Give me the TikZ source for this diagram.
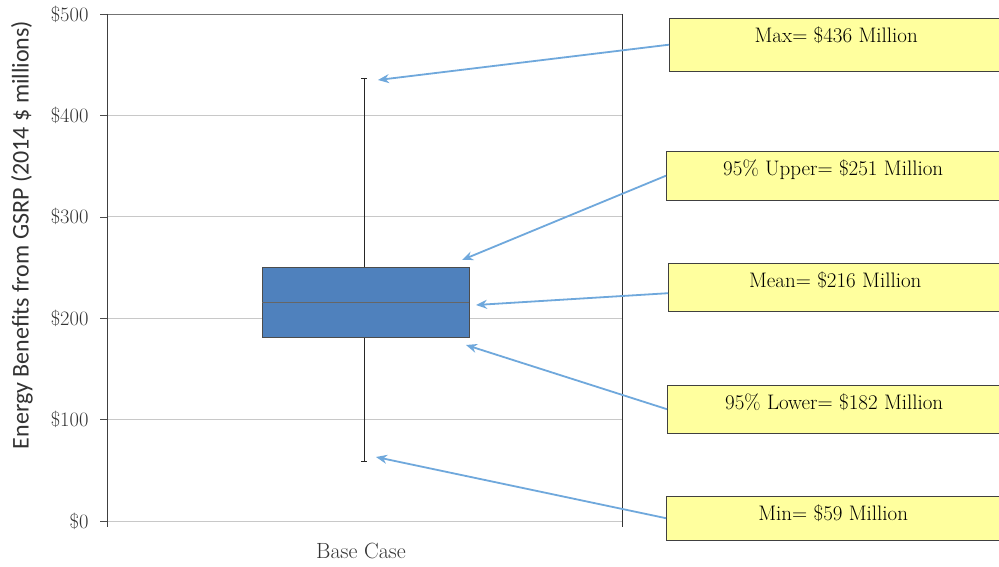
\documentclass[tikz,border=0pt]{standalone}
\usepackage{fontspec}
\newfontfamily\axisfont{Carlito}
\usetikzlibrary{arrows.meta}
\definecolor{boxblue}{HTML}{4F81BD}
\definecolor{notefill}{HTML}{FFFF9E}
\definecolor{pointer}{HTML}{6FA8DC}
\definecolor{gridgray}{HTML}{C8C8C8}
\tikzset{
  note/.style={draw=black!75, fill=notefill, minimum width=334pt, text height=24pt, inner sep=0pt, anchor=north west, font=\fontsize{21}{24}\selectfont},
  pointto/.style={-{Stealth[length=11pt,width=9pt]}, pointer, line width=1.8pt},
  gridline/.style={gridgray, line width=0.8pt},
  ticklab/.style={anchor=east, text=black!80, font=\fontsize{20.5}{24}\selectfont},
}

\begin{document}
\begin{tikzpicture}[x=1pt,y=-1pt]
  \useasboundingbox[fill=white] (0,0) rectangle (999,567);
  \foreach \v/\t in {0/\$0,1/\$100,2/\$200,3/\$300,4/\$400,5/\$500}{
    \draw[gridline] (107,521-\v*101.4) -- (622,521-\v*101.4);
    \draw[black!70] (100,521-\v*101.4) -- (107,521-\v*101.4);
    \node[ticklab] (tick\v) at (92,521-\v*101.4) {\t};
  }
  \draw[black!55, line width=0.9pt] (107,14) -- (622,14);
  \draw[black!75, line width=0.9pt] (107,14) -- (107,527);
  \draw[black!80, line width=0.9pt] (622,14) -- (622,527);
  \node[rotate=90, text=black!80, font=\axisfont\fontsize{24}{28}\selectfont] (ytitle) at (22,235) {Energy Benefits from GSRP (2014 \$ millions)};
  \node[text=black!80, font=\fontsize{22}{26}\selectfont] (base) at (361,551) {Base Case};
  \draw[black!85, line width=1pt] (364,79) -- (364,461);
  \draw[black!85, line width=1pt] (361,79) -- (367,79) (361,461) -- (367,461);
  \draw[fill=boxblue, draw=black!70, line width=0.9pt] (262,267) rectangle (469,337);
  \draw[black!60] (262,302) -- (469,302);
  \coordinate (maxpt) at (378,80);
  \coordinate (upperpt) at (462,260);
  \coordinate (meanpt) at (476,305);
  \coordinate (lowerpt) at (466,345);
  \coordinate (minpt) at (376,457);
  \node[note, text depth=29pt] (max) at (669,18) {Max= \$436 Million};
  \node[note, text depth=25pt] (upper) at (666,151) {95\% Upper= \$251 Million};
  \node[note, text depth=24pt] (mean) at (668,263) {Mean= \$216 Million};
  \node[note, text depth=24pt] (lower) at (667,385) {95\% Lower= \$182 Million};
  \node[note, text depth=20pt] (min) at (666,496) {Min= \$59 Million};
  \draw[pointto] (max.west) -- (maxpt);
  \draw[pointto] (upper.west) -- (upperpt);
  \draw[pointto] ([yshift=-6pt]mean.west) -- (meanpt);
  \draw[pointto] (lower.west) -- (lowerpt);
  \draw[pointto] (min.west) -- (minpt);
\end{tikzpicture}
\end{document}
